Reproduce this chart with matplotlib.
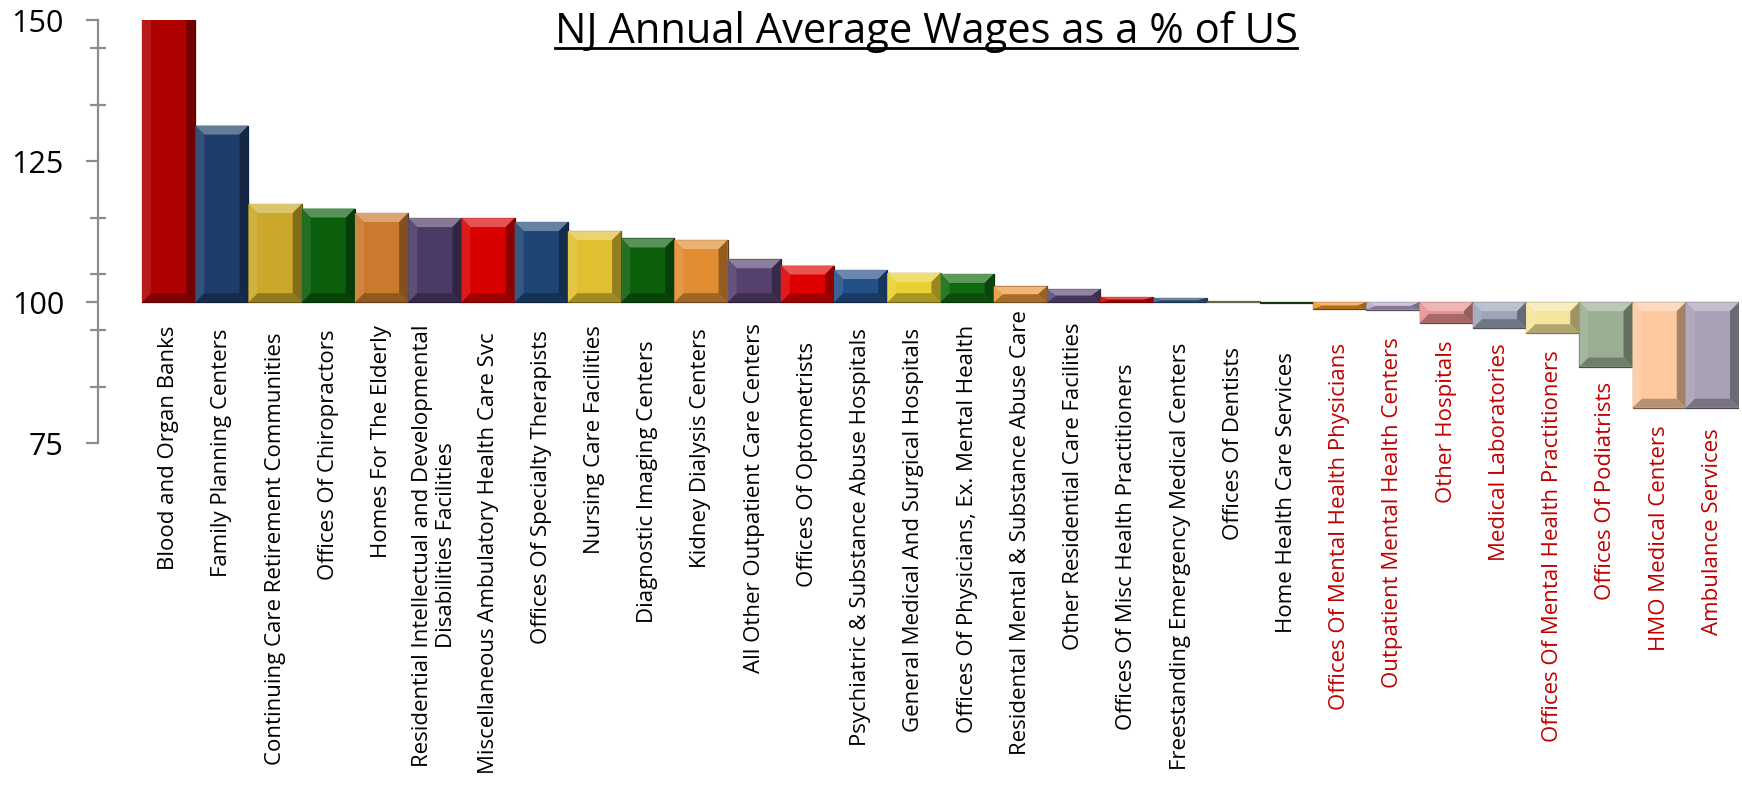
import matplotlib
matplotlib.use('Agg')
import matplotlib.pyplot as plt
from matplotlib.colors import to_rgb
from matplotlib.lines import Line2D
from matplotlib.ticker import MultipleLocator, FixedLocator
import matplotlib.transforms as mtransforms
import numpy as np

# Chart data
categories = [
    'Blood and Organ Banks', 'Family Planning Centers',
    'Continuing Care Retirement Communities', 'Offices Of Chiropractors',
    'Homes For The Elderly',
    'Residential Intellectual and Developmental\nDisabilities Facilities',
    'Miscellaneous Ambulatory Health Care Svc', 'Offices Of Specialty Therapists',
    'Nursing Care Facilities', 'Diagnostic Imaging Centers', 'Kidney Dialysis Centers',
    'All Other Outpatient Care Centers', 'Offices Of Optometrists',
    'Psychiatric & Substance Abuse Hospitals', 'General Medical And Surgical Hospitals',
    'Offices Of Physicians, Ex. Mental Health', 'Residental Mental & Substance Abuse Care',
    'Other Residential Care Facilities', 'Offices Of Misc Health Practitioners',
    'Freestanding Emergency Medical Centers', 'Offices Of Dentists',
    'Home Health Care Services', 'Offices Of Mental Health Physicians',
    'Outpatient Mental Health Centers', 'Other Hospitals', 'Medical Laboratories',
    'Offices Of Mental Health Practitioners', 'Offices Of Podiatrists',
    'HMO Medical Centers', 'Ambulance Services',
]
# first bar runs off the top of the axis (150 cap), estimated value
values = [153.0, 131.3, 117.4, 116.6, 115.8, 114.9, 114.9, 114.2, 112.6, 111.3,
          111.0, 107.6, 106.5, 105.7, 105.2, 105.0, 102.8, 102.3, 100.9, 100.7,
          100.2, 99.9, 98.8, 98.7, 96.3, 95.4, 94.5, 88.6, 81.3, 81.3]
bar_colors = ['#B00000', '#1F3D6B', '#C9A82A', '#0B5E0B', '#C97A2C', '#4B3A66',
              '#D90000', '#1F4575', '#E0C030', '#0C600C', '#E08C30', '#55406E',
              '#E00000', '#24508A', '#E8D030', '#106A10', '#E8963A', '#5E4A7A',
              '#E00000', '#3A6090', '#EEE0A0', '#208020', '#F0962A', '#B8A8CC',
              '#E89090', '#9CA4B8', '#F5E49C', '#9AAE92', '#FCC8A0', '#A8A0B4']
below_us = [False] * 22 + [True] * 8
baseline = 100

# how far each label's end sits below the 100 line (px), as laid out in the original
label_drop_px = [23, 26, 30, 27, 23, 22, 30, 28, 23, 38, 26, 21, 40, 26, 26,
                 23, 8, 20, 61, 40, 45, 50, 41, 35, 38, 41, 48, 80, 123, 126]

W, H = 1742, 796
fig = plt.figure(figsize=(W / 100, H / 100), dpi=100)
ax_left, ax_right = 98 / W, 1739 / W
ax_bottom, ax_top = 1 - 443.3 / H, 1 - 20 / H
ax = fig.add_axes([ax_left, ax_bottom, ax_right - ax_left, ax_top - ax_bottom])

n = len(values)
x = np.arange(n)
bar_px = (1739 - 142) / n
ax.set_xlim(-0.5 - 44 / bar_px, n - 0.5)
ax.set_ylim(75, 150)


def mix(c, other, t):
    c = np.array(to_rgb(c))
    return tuple(c * (1 - t) + np.array(other) * t)


heights = [v - baseline for v in values]
ax.bar(x, heights, bottom=baseline, width=1.0, color=bar_colors,
       edgecolor=[mix(c, (0, 0, 0), 0.55) for c in bar_colors], linewidth=0.9,
       zorder=2)

# bevel facets
bx = 9 / bar_px
by = 9 / ((443.3 - 20) / 75)
for i, v in enumerate(values):
    c = bar_colors[i]
    x0, x1 = i - 0.5, i + 0.5
    yt, yb = max(v, baseline), min(v, baseline)
    h = yt - yb
    dy = min(by, h / 2)
    dx = min(bx, 0.5) if h > 0.6 else 0
    if dx == 0:
        continue
    ax.fill([x0, x1, x1 - dx, x0 + dx], [yt, yt, yt - dy, yt - dy],
            color=mix(c, (1, 1, 1), 0.32), lw=0, zorder=3)
    ax.fill([x0, x1, x1 - dx, x0 + dx], [yb, yb, yb + dy, yb + dy],
            color=mix(c, (0, 0, 0), 0.28), lw=0, zorder=3)
    ax.fill([x0, x0 + dx, x0 + dx, x0], [yb, yb + dy, yt - dy, yt],
            color=mix(c, (1, 1, 1), 0.1), lw=0, zorder=3)
    ax.fill([x1, x1 - dx, x1 - dx, x1], [yb, yb + dy, yt - dy, yt],
            color=mix(c, (0, 0, 0), 0.35), lw=0, zorder=3)

# axes styling
for s in ['top', 'right', 'bottom']:
    ax.spines[s].set_visible(False)
ax.spines['left'].set_color('#8C8C8C')
ax.spines['left'].set_linewidth(1.6)
ax.set_xticks([])
ax.yaxis.set_major_locator(MultipleLocator(25))
ax.yaxis.set_minor_locator(FixedLocator([85, 95, 105, 115, 135, 145]))
ax.tick_params(axis='y', which='major', direction='out', length=8.5, width=1.6,
               color='#8C8C8C', labelsize=22, pad=16)
ax.tick_params(axis='y', which='minor', direction='inout', length=12, width=1.6,
               color='#8C8C8C')
for lbl in ax.get_yticklabels():
    lbl.set_fontfamily('Open Sans')

# category labels hang from the 100 line
for i, name in enumerate(categories):
    tr = mtransforms.offset_copy(ax.transData, fig=fig, x=0,
                                 y=-label_drop_px[i] * 0.72, units='points')
    ax.text(i, baseline, name, transform=tr, rotation=90, ha='center', va='top',
            multialignment='center', fontsize=16, fontfamily='Open Sans',
            color='#C00000' if below_us[i] else 'black', clip_on=False)

# underlined title
title = fig.text(926 / W, 1 - 43 / H, 'NJ Annual Average Wages as a % of US',
                 ha='center', va='baseline', fontsize=30, fontfamily='Open Sans')
fig.canvas.draw()
bb = title.get_window_extent().transformed(fig.transFigure.inverted())
fig.add_artist(Line2D([bb.x0, bb.x1], [1 - 48 / H, 1 - 48 / H],
                      transform=fig.transFigure, color='black', lw=2))

fig.savefig('out.png', dpi=100)
